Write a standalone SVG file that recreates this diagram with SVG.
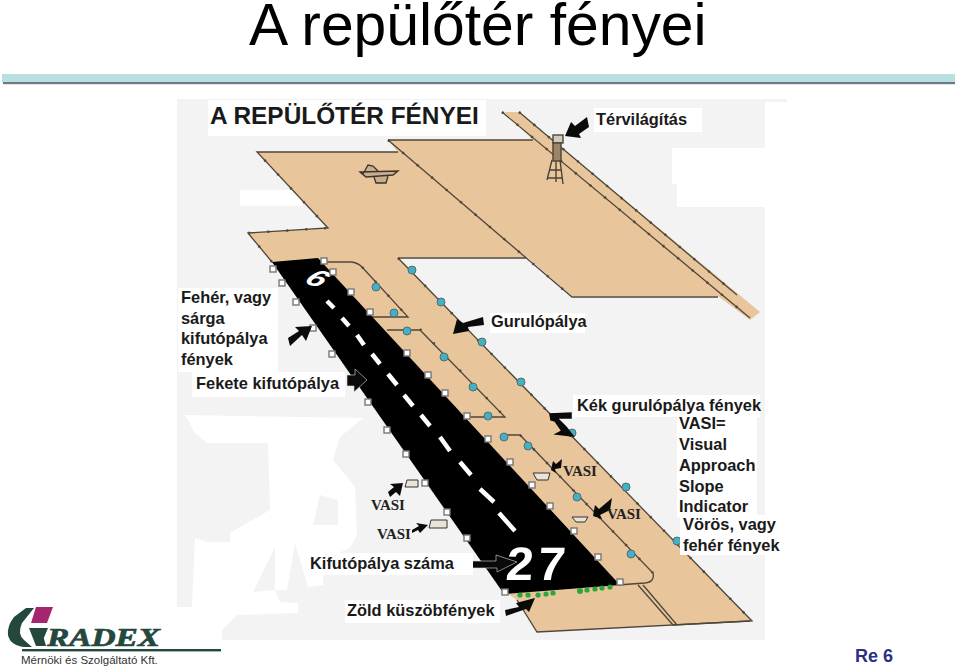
<svg xmlns="http://www.w3.org/2000/svg" width="960" height="666" viewBox="0 0 960 666">
<style>
.lbl{font-family:"Liberation Sans",Arial,sans-serif;font-weight:700;font-size:16.4px;fill:#1a1a1a}
.vasi{font-family:"Liberation Serif","Times New Roman",serif;font-weight:700;font-size:15px;fill:#222}
.edge{fill:none;stroke:#4f463a;stroke-width:1.3}
.knob{fill:none;stroke:#4f463a;stroke-width:2.4;stroke-dasharray:2 17}
.w{fill:#fff;stroke:#777;stroke-width:1.4}
.b{fill:#3fb2c4;stroke:#5b6a70;stroke-width:1}
.g{fill:#2aa63a}
.a{fill:#0a0a0a}
.d{stroke:#fff;stroke-width:4.5}
.u{fill:#e9e4d6;stroke:#333;stroke-width:1}
</style>
<rect width="960" height="666" fill="#fff"/>
<g id="header">
<rect x="2" y="74" width="953" height="8.5" fill="#b9dfe1"/>
<rect x="3" y="82" width="952" height="2.2" fill="#6f7b84"/>
<text x="249" y="45" font-family="'Liberation Sans',Arial,sans-serif" font-size="58.8" fill="#000">A repülőtér fényei</text>
</g>
<g id="background">
<path d="M177 99H787V102H765V640H222V630H177Z" fill="#f3f3f3"/>
<path d="M672 148H767V184H767V207H677V184H672Z" fill="#fff"/>
<path d="M240 190H296V182H312V198H303V206H240Z" fill="#fff"/>
<path d="M185 415L363 418L340 437L333 460L355 487L357 535L350 548L323 560L323 585L308 587L295 543L287 590L275 590L275 547L253 592L275 590L280 602L298 603L298 613L237 615L222 630V641H170V607H192L195 538L207 542H230V533L247 523L270 510L268 443H207L195 433Z" fill="#fff"/>
<path d="M320 495L338 500V525H313Z" fill="#f3f3f3"/>
</g>
<g id="airfield">
<path d="M257 152H398L388 140H533L504 112H519L760 312L750 320L718 296H572L527 257H398L752 621L537 632L517 600L505 592L272 262L248 233L328 228Z" fill="#e8c59b"/>
<g id="edges">
<path class="edge" d="M272 262L248 233L328 228L257 152H398M388 140H533M388 140L572 297H718M398 258H527M398 258L752 621L537 632L517 600M502 112L750 318M519 112L737 295"/>
<path class="knob" d="M272 262L248 233L328 228L257 152M388 140L572 297M398 258L752 621M502 112L750 318M519 112L737 295"/>
<path class="edge" d="M320 262H352Q358 263 362 267L408 317H370M387 330H420L505 417H470M503 435H520L653 573Q655 582 645 583L618 585M638 585L673 625L750 621M643 585L677 625"/>
<path class="knob" d="M362 267L408 317M420 329L505 417M520 435L653 573"/>
</g>
<path id="plane" d="M363 174L368 165L373 166L378 171M360 172L398 171L393 175L366 177ZM374 177L376 183H386L388 176" fill="#c9ae8e" stroke="#3a332b" stroke-width="1.3"/>
<g id="tower" fill="none" stroke="#4a4338" stroke-width="1.4">
<rect x="553" y="135" width="10" height="8" fill="#cfcabd"/>
<rect x="553" y="143" width="8" height="18" fill="#9b8467"/>
<path d="M552 160L547 180M560 160L563 184M556 161V182M549 170H561M548 178H562"/>
</g>
<path id="runway" d="M272 262L318 258L620 585L504 594Z" fill="#000"/>
<g id="centre-line">
<path class="d" d="M327 301L334 308M342 318L349 326M357 335L364 345M372 354L380 364M388 374L397 385M404 395L413 406M421 415L430 426M440 437L450 451M460 462L471 475M480 489L494 502M499 513L515 531"/>
<text transform="matrix(.95 .35 -.75 .62 302 282)" font-family="'Liberation Sans',Arial,sans-serif" font-weight="700" font-size="31" fill="#fff">6</text>
<text transform="matrix(1.05 0 -.08 1 505 580)" font-family="'Liberation Sans',Arial,sans-serif" font-weight="700" font-size="47" letter-spacing="4" fill="#fff">27</text>
</g>
</g>
<g id="white-lights">
<rect class="w" x="270" y="266" width="6" height="6"/><rect class="w" x="279" y="280" width="6" height="6"/><rect class="w" x="293" y="299" width="6" height="6"/><rect class="w" x="310" y="325" width="6" height="6" fill="#ccc"/><rect class="w" x="329" y="351" width="6" height="6"/><rect class="w" x="365" y="399" width="6" height="6"/><rect class="w" x="384" y="427" width="6" height="6"/><rect class="w" x="403" y="451" width="6" height="6"/><rect class="w" x="422" y="480" width="6" height="6"/><rect class="w" x="444" y="509" width="6" height="6"/><rect class="w" x="464" y="535" width="6" height="6"/><rect class="w" x="502" y="589" width="6" height="6"/>
<rect class="w" x="321" y="258" width="6" height="6"/><rect class="w" x="330" y="269" width="6" height="6"/><rect class="w" x="348" y="289" width="6" height="6"/><rect class="w" x="367" y="309" width="6" height="6"/><rect class="w" x="404" y="350" width="6" height="6"/><rect class="w" x="425" y="372" width="6" height="6"/><rect class="w" x="442" y="390" width="6" height="6"/><rect class="w" x="464" y="413" width="6" height="6"/><rect class="w" x="485" y="436" width="6" height="6"/><rect class="w" x="507" y="459" width="6" height="6"/><rect class="w" x="529" y="482" width="6" height="6"/><rect class="w" x="547" y="503" width="6" height="6"/><rect class="w" x="571" y="528" width="6" height="6"/><rect class="w" x="595" y="554" width="6" height="6"/><rect class="w" x="617" y="579" width="6" height="6"/>
</g>
<g id="blue-lights">
<circle class="b" cx="412" cy="270" r="4"/><circle class="b" cx="376" cy="287" r="4"/><circle class="b" cx="441" cy="302" r="4"/><circle class="b" cx="394" cy="313" r="4"/><circle class="b" cx="482" cy="342" r="4"/><circle class="b" cx="407" cy="331" r="4"/><circle class="b" cx="444" cy="357" r="4"/><circle class="b" cx="473" cy="387" r="4"/><circle class="b" cx="488" cy="416" r="4"/><circle class="b" cx="521" cy="382" r="4"/><circle class="b" cx="504" cy="437" r="4"/><circle class="b" cx="528" cy="446" r="4"/><circle class="b" cx="572" cy="433" r="4"/><circle class="b" cx="626" cy="487" r="4"/><circle class="b" cx="577" cy="497" r="4"/><circle class="b" cx="677" cy="541" r="4"/><circle class="b" cx="631" cy="554" r="4"/>
</g>
<g id="green-lights">
<circle class="g" cx="520" cy="595" r="2.6"/><circle class="g" cx="528" cy="595" r="2.6"/><circle class="g" cx="538" cy="595" r="2.6"/><circle class="g" cx="546" cy="594" r="2.6"/><circle class="g" cx="553" cy="593" r="2.6"/><circle class="g" cx="580" cy="591" r="3"/><circle class="g" cx="587" cy="590" r="2.6"/><circle class="g" cx="595" cy="589" r="2.6"/><circle class="g" cx="602" cy="588" r="2.6"/><circle class="g" cx="610" cy="587" r="2.6"/>
</g>
<g id="vasi-units">
<path class="u" d="M533 473H550L548 480H537Z"/><path class="u" d="M572 517H588L585 522H576Z"/><path class="u" d="M407 480H418V487H405Z"/><path class="u" d="M431 520H447V528H429Z"/>
</g>
<g id="arrows">
<path class="a" d="M565 136L571 122L575 126L587 117L589 127L579 134L581 138Z"/>
<path class="a" d="M453 334L457 319L463 323L483 317L484 325L468 327L469 331Z"/>
<path class="a" d="M312 326L306 341L302 335L290 346L288 338L299 331L295 327Z"/>
<path class="a" d="M347 375H355V369L367 380L354 392V386H347Z" stroke="#ddd" stroke-width=".6"/>
<path class="a" stroke="#0a0a0a" stroke-width="1.5" d="M550 414L571 413V418L557 418L566 427L573 436L556 434L562 431L555 421L551 420Z"/>
<path class="a" d="M551 470L553 461L556 464L562 459L561 468L555 469L556 473Z"/>
<path class="a" d="M593 516L595 505L599 509L612 498L610 510L600 515L602 519Z"/>
<path class="a" d="M403 483L400 496L396 492L390 497L388 492L394 487L390 484Z"/>
<path class="a" d="M428 525L420 533L418 530L412 533L412 530L419 526L416 523Z"/>
<path class="a" d="M472 561H496V555L517 562L497 572V568L472 568Z" stroke="#ddd" stroke-width=".6"/>
<path class="a" d="M505 610L519 607L516 603L535 598L529 612L526 609L506 616Z"/>
</g>
<g id="labels">
<g fill="#fff">
<rect x="208" y="100" width="278" height="36"/><rect x="594" y="108" width="108" height="24"/><rect x="178" y="288" width="100" height="84"/><rect x="192" y="372" width="153" height="25"/><rect x="490" y="313" width="95" height="20"/><rect x="573" y="395" width="187" height="22"/><rect x="677" y="417" width="80" height="100"/><rect x="680" y="515" width="103" height="40"/><rect x="307" y="553" width="166" height="22"/><rect x="345" y="600" width="155" height="23"/>
</g>
<text x="210" y="124" font-family="'Liberation Sans',Arial,sans-serif" font-weight="700" font-size="24.4" fill="#1a1a1a">A REPÜLŐTÉR FÉNYEI</text>
<text class="lbl" x="596" y="125">Térvilágítás</text>
<text class="lbl" x="181" y="303">Fehér, vagy</text><text class="lbl" x="181" y="324">sárga</text><text class="lbl" x="181" y="344">kifutópálya</text><text class="lbl" x="181" y="365">fények</text>
<text class="lbl" x="196" y="389">Fekete kifutópálya</text>
<text class="lbl" x="491" y="327">Gurulópálya</text>
<text class="lbl" x="577" y="411">Kék gurulópálya fények</text>
<text class="lbl" x="679" y="429">VASI=</text><text class="lbl" x="679" y="450">Visual</text><text class="lbl" x="679" y="471">Approach</text><text class="lbl" x="679" y="492">Slope</text><text class="lbl" x="679" y="512">Indicator</text>
<text class="lbl" x="683" y="530">Vörös, vagy</text><text class="lbl" x="683" y="551">fehér fények</text>
<text class="lbl" x="310" y="569">Kifutópálya száma</text>
<text class="lbl" x="347" y="616">Zöld küszöbfények</text>
<text class="vasi" x="371" y="510">VASI</text><text class="vasi" x="377" y="539">VASI</text><text class="vasi" x="563" y="476">VASI</text><text class="vasi" x="607" y="519">VASI</text>
</g>
<g id="logo">
<path d="M34 608H26L14 617Q7 626 8 635Q10 645 24 647H32L24 640Q17 634 22 623Z" fill="#24473e"/>
<path d="M36 607H53L47 623H31Z" fill="#a3266f"/>
<path d="M29 628H41L46 646H36Z M31 628H48L43 640Z" fill="#24473e"/>
<text x="47" y="646" font-family="'Liberation Serif',serif" font-weight="700" font-style="italic" font-size="26" textLength="113" lengthAdjust="spacingAndGlyphs" fill="#24473e" stroke="#24473e" stroke-width=".7">RADEX</text>
<rect x="22" y="649" width="199" height="2.4" fill="#24473e"/>
<text x="21" y="664" font-family="'Liberation Sans',Arial,sans-serif" font-size="11.5" fill="#333">Mérnöki és Szolgáltató Kft.</text>
</g>
<text x="855" y="662" font-family="'Liberation Sans',Arial,sans-serif" font-weight="700" font-size="18" fill="#2b2f86">Re 6</text>
</svg>
